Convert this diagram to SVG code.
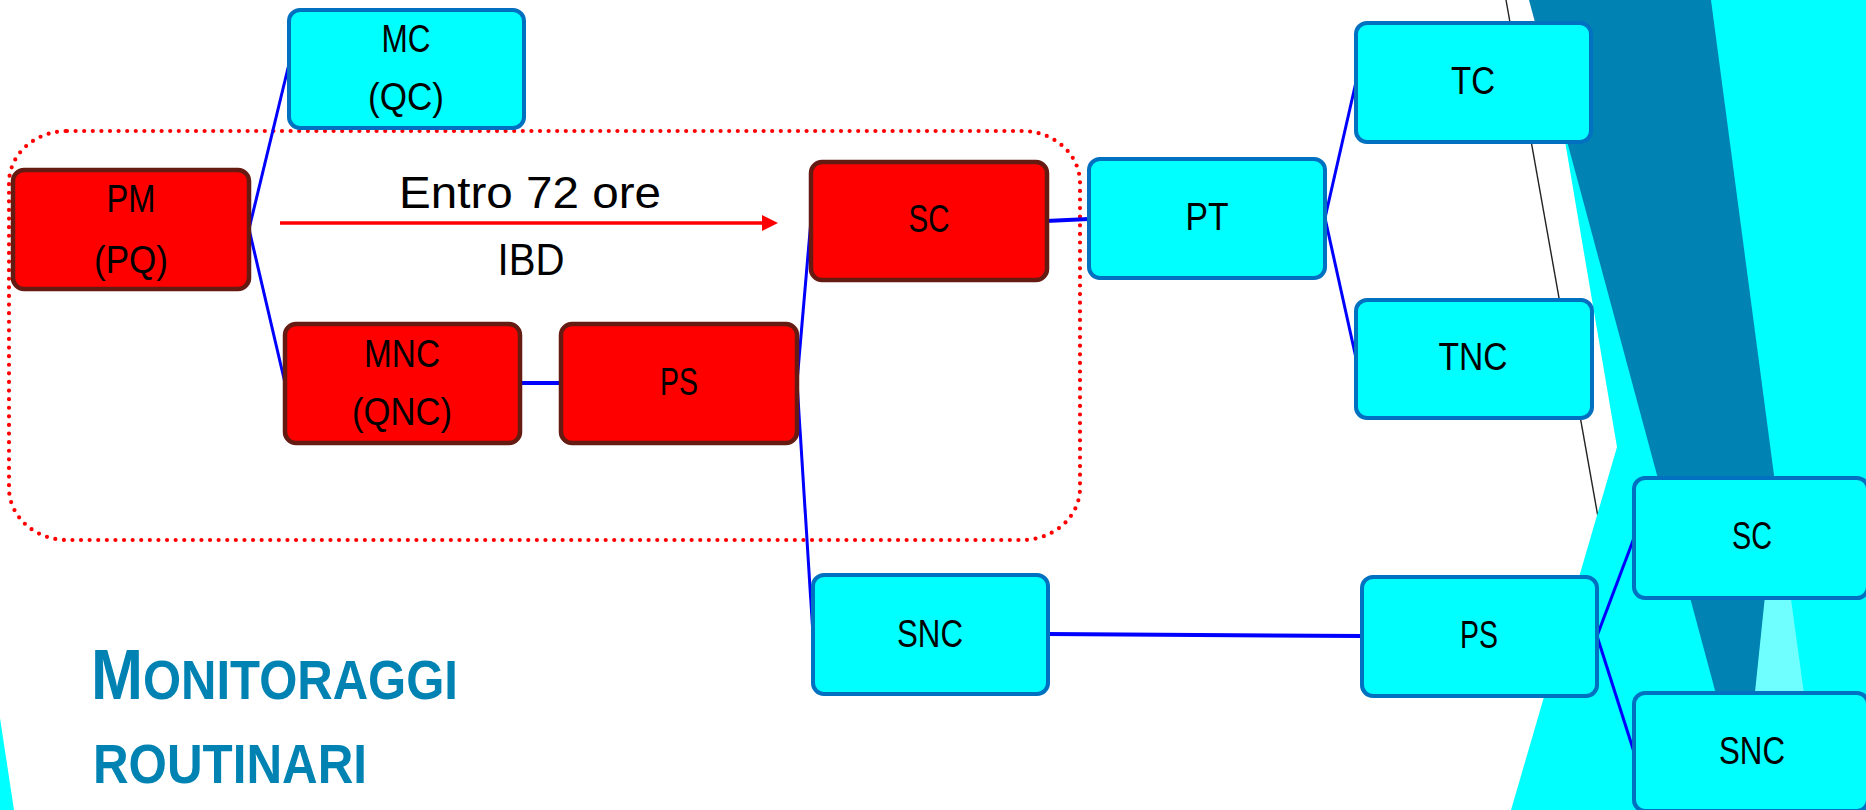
<svg xmlns="http://www.w3.org/2000/svg" width="1866" height="810" viewBox="0 0 1866 810">
<defs>
<style>
.red rect{fill:#FF0000;stroke:#651A12;stroke-width:4.5}
.cyan rect{fill:#00FFFF;stroke:#0070C0;stroke-width:4}
.lbl{font-family:"Liberation Sans",Arial,sans-serif;font-size:38px;fill:#000;text-anchor:middle}
.conn line{stroke:#0000FF;stroke-width:3;fill:none}
.title{font-family:"Liberation Sans",Arial,sans-serif;font-weight:bold;fill:#0083B3}
.big{font-family:"Liberation Sans",Arial,sans-serif;font-size:44px;fill:#000;text-anchor:middle}
</style>
<marker id="arrowRed" viewBox="0 0 16 16" refX="2" refY="8" markerWidth="16" markerHeight="16" markerUnits="userSpaceOnUse" orient="auto">
<path d="M0,0 L16,8 L0,16 Z" fill="#FF0000"/>
</marker>
</defs>
<rect width="1866" height="810" fill="#FFFFFF"/>
<g id="background">
<line x1="1506" y1="0" x2="1598" y2="517" stroke="#222222" stroke-width="1.4"/>
<polygon points="1541,0 1866,0 1866,810 1511,810 1617,447" fill="#00FFFF"/>
<polygon points="1776,490 1820,810 1742,810" fill="#70FFFF"/>
<polygon points="1529,0 1711,0 1776,490 1744,798" fill="#0083B3"/>
<polygon points="0,718 14,810 0,810" fill="#00FFFF"/>
</g>
<g id="group-72h">
<rect x="9" y="131" width="1071" height="409" rx="58" ry="52" fill="none" stroke="#FF0000" stroke-width="4.2" stroke-dasharray="0 8.6" stroke-linecap="round"/>
<line x1="280" y1="223" x2="764" y2="223" stroke="#FF0000" stroke-width="3.5" marker-end="url(#arrowRed)"/>
<text class="big" x="530" y="208" textLength="262" lengthAdjust="spacingAndGlyphs">Entro 72 ore</text>
<text class="big" x="531" y="275" textLength="67" lengthAdjust="spacingAndGlyphs">IBD</text>
</g>
<g id="connectors" class="conn">
<line x1="249" y1="229" x2="289" y2="64"/>
<line x1="249" y1="229" x2="285" y2="383"/>
<line x1="520" y1="383" x2="561" y2="383" style="stroke-width:4"/>
<line x1="797" y1="382" x2="811" y2="220"/>
<line x1="797" y1="382" x2="813" y2="635"/>
<line x1="1046" y1="221" x2="1089" y2="219" style="stroke-width:4"/>
<line x1="1325" y1="218" x2="1356" y2="82"/>
<line x1="1325" y1="218" x2="1356" y2="358"/>
<line x1="1048" y1="634" x2="1362" y2="636" style="stroke-width:4"/>
<line x1="1597" y1="636" x2="1634" y2="538"/>
<line x1="1597" y1="636" x2="1634" y2="752"/>
</g>
<g id="node-PM" class="red">
<rect x="13" y="170" width="236" height="119" rx="11"/>
<text class="lbl" x="131" y="212" textLength="49" lengthAdjust="spacingAndGlyphs">PM</text>
<text class="lbl" x="131" y="273" textLength="74" lengthAdjust="spacingAndGlyphs">(PQ)</text>
</g>
<g id="node-MC" class="cyan">
<rect x="289" y="10" width="235" height="118" rx="11"/>
<text class="lbl" x="406" y="52" textLength="49" lengthAdjust="spacingAndGlyphs">MC</text>
<text class="lbl" x="406" y="110" textLength="76" lengthAdjust="spacingAndGlyphs">(QC)</text>
</g>
<g id="node-MNC" class="red">
<rect x="285" y="324" width="235" height="119" rx="11"/>
<text class="lbl" x="402" y="367" textLength="76" lengthAdjust="spacingAndGlyphs">MNC</text>
<text class="lbl" x="402" y="425" textLength="100" lengthAdjust="spacingAndGlyphs">(QNC)</text>
</g>
<g id="node-PS1" class="red">
<rect x="561" y="324" width="236" height="119" rx="11"/>
<text class="lbl" x="679" y="395" textLength="38" lengthAdjust="spacingAndGlyphs">PS</text>
</g>
<g id="node-SC1" class="red">
<rect x="811" y="162" width="236" height="118" rx="11"/>
<text class="lbl" x="929" y="232" textLength="41" lengthAdjust="spacingAndGlyphs">SC</text>
</g>
<g id="node-SNC1" class="cyan">
<rect x="813" y="575" width="235" height="119" rx="11"/>
<text class="lbl" x="930" y="647" textLength="66" lengthAdjust="spacingAndGlyphs">SNC</text>
</g>
<g id="node-PT" class="cyan">
<rect x="1089" y="159" width="236" height="119" rx="11"/>
<text class="lbl" x="1207" y="230" textLength="43" lengthAdjust="spacingAndGlyphs">PT</text>
</g>
<g id="node-TC" class="cyan">
<rect x="1356" y="23" width="235" height="119" rx="11"/>
<text class="lbl" x="1473" y="94" textLength="44" lengthAdjust="spacingAndGlyphs">TC</text>
</g>
<g id="node-TNC" class="cyan">
<rect x="1356" y="300" width="236" height="118" rx="11"/>
<text class="lbl" x="1473" y="370" textLength="69" lengthAdjust="spacingAndGlyphs">TNC</text>
</g>
<g id="node-PS2" class="cyan">
<rect x="1362" y="577" width="235" height="119" rx="11"/>
<text class="lbl" x="1479" y="648" textLength="38" lengthAdjust="spacingAndGlyphs">PS</text>
</g>
<g id="node-SC2" class="cyan">
<rect x="1634" y="478" width="234" height="120" rx="11"/>
<text class="lbl" x="1752" y="549" textLength="40" lengthAdjust="spacingAndGlyphs">SC</text>
</g>
<g id="node-SNC2" class="cyan">
<rect x="1634" y="693" width="234" height="118" rx="11"/>
<text class="lbl" x="1752" y="764" textLength="66" lengthAdjust="spacingAndGlyphs">SNC</text>
</g>
<g id="title">
<text class="title" x="91" y="699" textLength="367" lengthAdjust="spacingAndGlyphs"><tspan font-size="70">M</tspan><tspan font-size="55">ONITORAGGI</tspan></text>
<text class="title" x="93" y="783" font-size="56" textLength="274" lengthAdjust="spacingAndGlyphs">ROUTINARI</text>
</g>
</svg>
